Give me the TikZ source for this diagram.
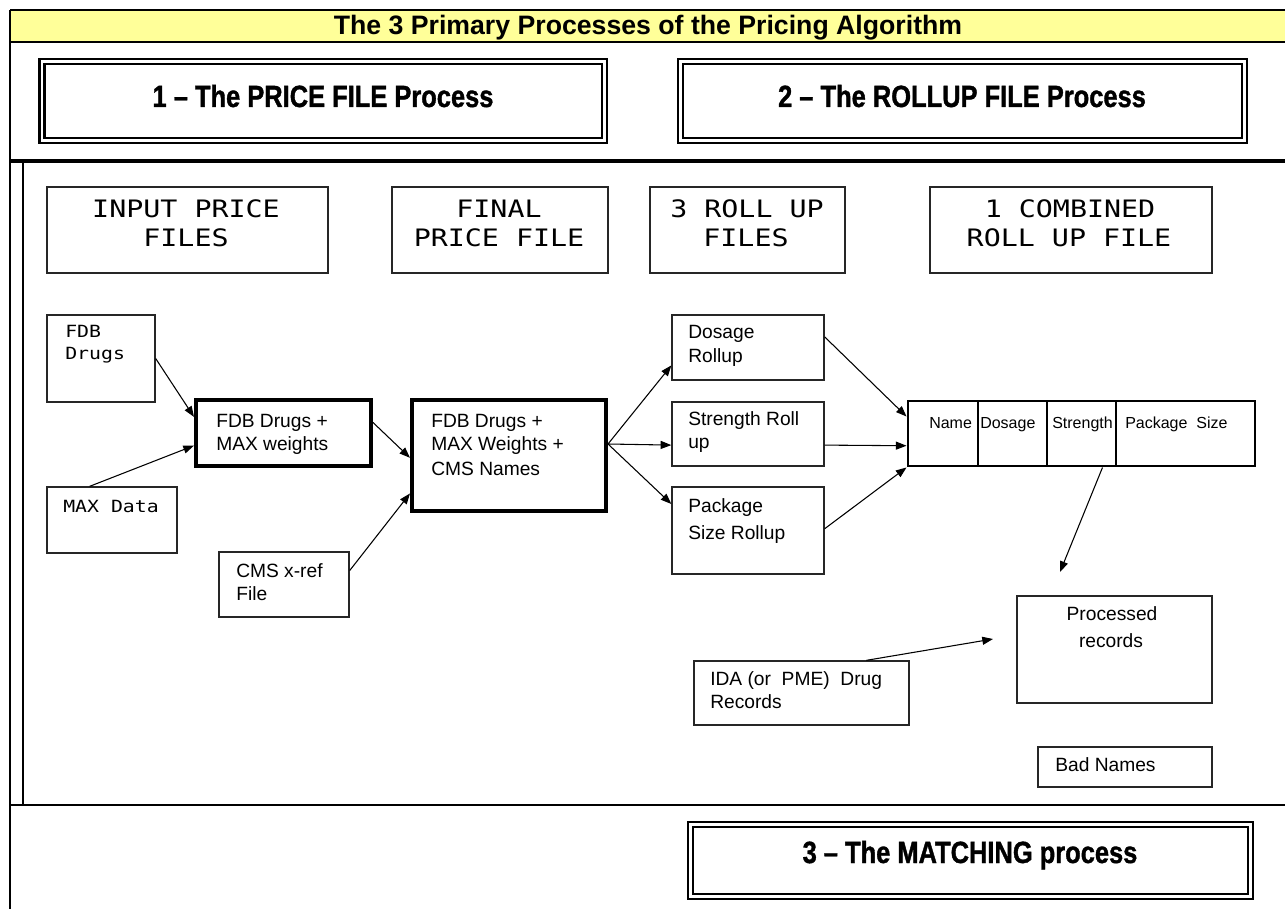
\documentclass[tikz,border=0pt]{standalone}
\usepackage{fontspec}
\setmainfont{Liberation Sans}
\newfontfamily\monof[FakeStretch=1.18]{DejaVu Sans Mono}
\newfontfamily\heavyf[FakeStretch=0.83,FakeBold=1.2]{Liberation Sans}
\usetikzlibrary{arrows.meta,calc,fit}
\definecolor{titleyellow}{HTML}{FFFF99}
\begin{document}
\begin{tikzpicture}[x=0.75pt,y=-0.75pt,
  thinbox/.style={draw=black!85, line width=1pt, inner sep=0pt},
  thickbox/.style={draw, line width=3pt, inner sep=0pt},
  tablebox/.style={draw, line width=2.2pt, inner sep=0pt},
  procbox/.style={draw, double, line width=1.6pt, double distance=2.2pt, inner sep=0pt},
  arr/.style={draw, line width=0.8pt, -{Triangle[length=8pt,width=6pt]}},
  titletxt/.style={font=\bfseries\fontsize{20pt}{24pt}\selectfont, anchor=base, inner sep=0pt},
  proctxt/.style={font=\heavyf\bfseries\fontsize{23pt}{27pt}\selectfont, anchor=base, inner sep=0pt},
  headtxt/.style={font=\monof\fontsize{18pt}{21pt}\selectfont, anchor=base, inner sep=0pt},
  smono/.style={font=\monof\fontsize{12.6pt}{15pt}\selectfont, anchor=base west, inner sep=0pt},
  body/.style={font=\fontsize{14.4pt}{17pt}\selectfont, anchor=base west, inner sep=0pt},
  bodyc/.style={font=\fontsize{14.4pt}{17pt}\selectfont, anchor=base, inner sep=0pt},
  cell/.style={font=\fontsize{12pt}{14pt}\selectfont, anchor=base west, inner sep=0pt}
]
\useasboundingbox (0,0) rectangle (1285,909);
\fill[white] (0,0) rectangle (1285,909);

% ---------- table frame ----------
\fill[titleyellow] (10,10) rectangle (1290,42);
\draw[line width=2.2pt] (10,10) -- (1290,10);
\draw[line width=2.2pt] (10,42) -- (1290,42);
\draw[line width=2.2pt] (10,10) -- (10,915);
\draw[line width=2.6pt] (10,161) -- (1290,161);
\draw[line width=1.8pt] (23,161) -- (23,805);
\draw[line width=2.2pt] (10,805) -- (1290,805);

\node[titletxt] (title) at (648,35) {The 3 Primary Processes of the Pricing Algorithm};

% ---------- process boxes ----------
\node[procbox, fit={(42,61.5) (604.5,140.5)}] (p1) {};
\node[procbox, fit={(680.5,61.5) (1244.5,140.5)}] (p2) {};
\node[procbox, fit={(690.5,824.5) (1250.5,896.5)}] (p3) {};
\node[proctxt] (p1t) at (323,107) {1 \textendash{} The PRICE FILE Process};
\node[proctxt] (p2t) at (962,107) {2 \textendash{} The ROLLUP FILE Process};
\node[proctxt] (p3t) at (970,863) {3 \textendash{} The MATCHING process};

% ---------- column headers ----------
\node[thinbox, fit={(47,187) (328,273)}] (hin) {};
\node[thinbox, fit={(392,187) (608,273)}] (hfin) {};
\node[thinbox, fit={(650,187) (845,273)}] (hroll) {};
\node[thinbox, fit={(930,187) (1212,273)}] (hcomb) {};
\node[headtxt] (hin1) at (186,218) {INPUT PRICE};
\node[headtxt] (hin2) at (186,247) {FILES};
\node[headtxt] (hfin1) at (499,218) {FINAL};
\node[headtxt] (hfin2) at (499,247) {PRICE FILE};
\node[headtxt] (hroll1) at (747,218) {3 ROLL UP};
\node[headtxt] (hroll2) at (746,247) {FILES};
\node[headtxt] (hcomb1) at (1070,218) {1 COMBINED};
\node[headtxt] (hcomb2) at (1069,247) {ROLL UP FILE};

% ---------- boxes ----------
\node[thinbox, fit={(47,315) (155,402)}] (fdb) {};
\node[thinbox, fit={(47,487) (177,553)}] (maxd) {};
\node[thickbox, fit={(196,400) (371,466)}] (fm) {};
\node[thinbox, fit={(219,552) (349,617)}] (cms) {};
\node[thickbox, fit={(412,400) (606,511)}] (fmc) {};
\node[thinbox, fit={(672,315) (824,380)}] (dos) {};
\node[thinbox, fit={(672,402) (824,466)}] (str) {};
\node[thinbox, fit={(672,487) (824,574)}] (pkg) {};
\node[tablebox, fit={(908,401) (1255,466)}] (comb) {};
\draw[line width=2.2pt] (978,401) -- (978,466);
\draw[line width=2.2pt] (1047,401) -- (1047,466);
\draw[line width=2.2pt] (1116,401) -- (1116,466);
\node[thinbox, fit={(694,661) (909,725)}] (ida) {};
\node[thinbox, fit={(1017,596) (1212,703)}] (proc) {};
\node[thinbox, fit={(1038,747) (1212,787)}] (bad) {};

% ---------- texts ----------
\node[smono] (fdbt1) at (65,338) {FDB};
\node[smono] (fdbt2) at (65,359) {Drugs};
\node[smono] (maxt) at (63,512) {MAX Data};
\node[body] (fmt1) at (216,427) {FDB Drugs +};
\node[body] (fmt2) at (216,450) {MAX weights};
\node[body] (cmst1) at (236,577) {CMS x-ref};
\node[body] (cmst2) at (236,600) {File};
\node[body] (fmct1) at (431,427) {FDB Drugs +};
\node[body] (fmct2) at (431,450) {MAX Weights +};
\node[body] (fmct3) at (431,475) {CMS Names};
\node[body] (dost1) at (688,339) {Dosage};
\node[body] (dost2) at (688,363) {Rollup};
\node[body] (strt1) at (688,425) {Strength Roll};
\node[body] (strt2) at (688,448) {up};
\node[body] (pkgt1) at (688,512) {Package};
\node[body] (pkgt2) at (688,539) {Size Rollup};
\node[cell] (c1) at (929,428) {Name};
\node[cell] (c2) at (980,428) {Dosage};
\node[cell] (c3) at (1052,428) {Strength};
\node[cell] (c4) at (1125,428) {Package\ \ Size};
\node[body] (idat1) at (710,685) {IDA (or\ \ PME)\ \ Drug};
\node[body] (idat2) at (710,708) {Records};
\node[bodyc] (proct1) at (1112,620) {Processed};
\node[bodyc] (proct2) at (1111,647) {records};
\node[body] (badt) at (1055,771) {Bad Names};

% ---------- connectors ----------
\draw[arr] (fdb.east) -- ($(fm.north west)!0.27!(fm.south west)$);
\draw[arr] ($(maxd.north west)!0.33!(maxd.north east)$) -- ($(fm.north west)!0.68!(fm.south west)$);
\draw[arr] ($(fm.north east)!0.35!(fm.south east)$) -- ($(fmc.north west)!0.52!(fmc.south west)$);
\draw[arr] ($(cms.north east)!0.29!(cms.south east)$) -- ($(fmc.north west)!0.83!(fmc.south west)$);
\draw[arr] ($(fmc.north east)!0.4!(fmc.south east)$) -- ($(dos.north west)!0.77!(dos.south west)$);
\draw[arr] ($(fmc.north east)!0.4!(fmc.south east)$) -- ($(str.north west)!0.67!(str.south west)$);
\draw[arr] ($(fmc.north east)!0.4!(fmc.south east)$) -- ($(pkg.north west)!0.2!(pkg.south west)$);
\draw[arr] ($(dos.north east)!0.34!(dos.south east)$) -- ($(comb.north west)!0.25!(comb.south west)$);
\draw[arr] ($(str.north east)!0.67!(str.south east)$) -- ($(comb.north west)!0.68!(comb.south west)$);
\draw[arr] ($(pkg.north east)!0.48!(pkg.south east)$) -- (comb.south west);
\coordinate (pend) at (1060,572);
\draw[arr] ($(comb.south west)!0.56!(comb.south east)$) -- (pend);
\coordinate (iend) at (993,639);
\draw[arr] ($(ida.north west)!0.8!(ida.north east)$) -- (iend);
\end{tikzpicture}
\end{document}
